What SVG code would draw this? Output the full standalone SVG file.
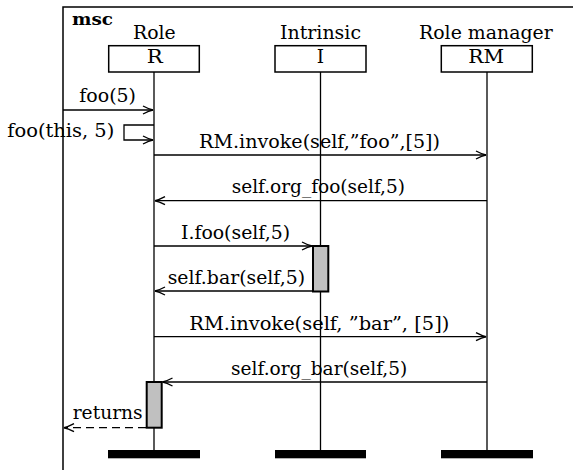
<svg xmlns="http://www.w3.org/2000/svg" width="573" height="470" viewBox="0 0 573 470">
<style>
text{font-family:"DejaVu Serif","Liberation Serif",serif;font-size:18px;fill:#000;}
.b{font-weight:bold;font-size:17px;}
.box{fill:#fff;stroke:#000;stroke-width:1.5;}
.life{stroke:#000;stroke-width:1.3;fill:none;}
.msg{stroke:#000;stroke-width:1.3;fill:none;}
.act{fill:#c0c0c0;stroke:#000;stroke-width:2;}
.end{fill:#000;}
</style>
<defs>
<marker id="ar" markerUnits="userSpaceOnUse" markerWidth="14" markerHeight="12" viewBox="-12 -6 14 12" refX="0" refY="0" orient="auto">
<path d="M-10,-4 Q-4,-0.8 0,0 Q-4,0.8 -10,4" fill="none" stroke="#000" stroke-width="1.4"/>
</marker>
</defs>
<path d="M63,480 V7 H590" fill="none" stroke="#000" stroke-width="1.5"/>
<text class="b" x="72" y="25" textLength="41" lengthAdjust="spacingAndGlyphs">msc</text>
<g id="R">
<text x="133" y="38.7" textLength="42.7" lengthAdjust="spacingAndGlyphs">Role</text>
<rect class="box" x="108.7" y="45.7" width="90.6" height="26.3"/>
<text x="146.7" y="63" textLength="16" lengthAdjust="spacingAndGlyphs">R</text>
<line class="life" x1="154" y1="72" x2="154" y2="450"/>
<rect class="end" x="108" y="450" width="92" height="8.3"/>
</g>
<g id="I">
<text x="280" y="38.7" textLength="81" lengthAdjust="spacingAndGlyphs">Intrinsic</text>
<rect class="box" x="275" y="45.7" width="91" height="26.3"/>
<text x="316.7" y="63" textLength="7.3" lengthAdjust="spacingAndGlyphs">I</text>
<line class="life" x1="320.5" y1="72" x2="320.5" y2="450"/>
<rect class="end" x="275" y="450" width="91" height="8.3"/>
<rect class="act" x="313" y="246" width="15.3" height="45.5"/>
</g>
<g id="RM">
<text x="419" y="38.7" textLength="133.7" lengthAdjust="spacingAndGlyphs">Role manager</text>
<rect class="box" x="441.3" y="45.7" width="91" height="26.3"/>
<text x="468.3" y="63" textLength="35.7" lengthAdjust="spacingAndGlyphs">RM</text>
<line class="life" x1="487" y1="72" x2="487" y2="450"/>
<rect class="end" x="441" y="450" width="92" height="8.3"/>
</g>
<g id="R-act">
<rect class="act" x="146.7" y="382" width="15" height="45.7"/>
</g>
<g id="connectors">
<line class="msg" x1="63" y1="110" x2="153" y2="110" marker-end="url(#ar)"/>
<path class="msg" d="M154,125 H124 V140 H153" marker-end="url(#ar)"/>
<line class="msg" x1="154" y1="155" x2="486" y2="155" marker-end="url(#ar)"/>
<line class="msg" x1="487" y1="200.7" x2="155" y2="200.7" marker-end="url(#ar)"/>
<line class="msg" x1="154" y1="246" x2="312" y2="246" marker-end="url(#ar)"/>
<line class="msg" x1="313" y1="291" x2="155" y2="291" marker-end="url(#ar)"/>
<line class="msg" x1="154" y1="336.7" x2="486" y2="336.7" marker-end="url(#ar)"/>
<line class="msg" x1="487" y1="382" x2="162.5" y2="382" marker-end="url(#ar)"/>
<line class="msg" x1="146" y1="427.7" x2="64" y2="427.7" stroke-dasharray="8,5" marker-end="url(#ar)"/>
</g>
<g id="labels">
<text x="79.3" y="102" textLength="56.7" lengthAdjust="spacingAndGlyphs">foo(5)</text>
<text x="7.3" y="137" textLength="107" lengthAdjust="spacingAndGlyphs">foo(this, 5)</text>
<text x="199" y="147.5" textLength="241" lengthAdjust="spacingAndGlyphs">RM.invoke(self,”foo”,[5])</text>
<text x="231.7" y="193" textLength="173.3" lengthAdjust="spacingAndGlyphs">self.org_foo(self,5)</text>
<text x="181" y="239" textLength="109" lengthAdjust="spacingAndGlyphs">I.foo(self,5)</text>
<text x="167.7" y="284" textLength="137.3" lengthAdjust="spacingAndGlyphs">self.bar(self,5)</text>
<text x="189.3" y="330" textLength="260" lengthAdjust="spacingAndGlyphs">RM.invoke(self, ”bar”, [5])</text>
<text x="231" y="375" textLength="176.3" lengthAdjust="spacingAndGlyphs">self.org_bar(self,5)</text>
<text x="72.7" y="419" textLength="70" lengthAdjust="spacingAndGlyphs">returns</text>
</g>
</svg>
